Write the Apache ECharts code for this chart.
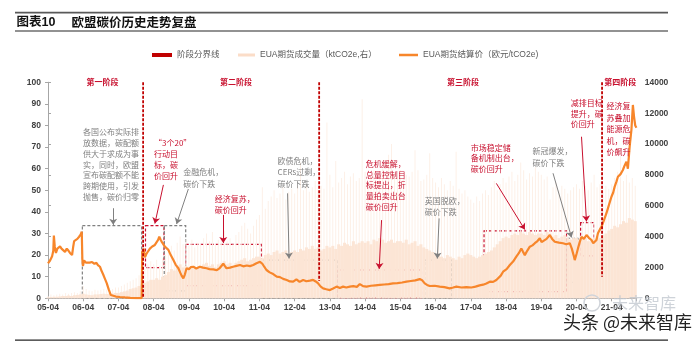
<!DOCTYPE html>
<html><head><meta charset="utf-8">
<script src="https://cdn.jsdelivr.net/npm/echarts@6/dist/echarts.min.js"></script>
<style>html,body{margin:0;padding:0;background:#fff}#c{width:700px;height:342px}</style>
</head><body><div id="c"></div>
<script>
// ---------- DATA ----------
// x = months since 2005-04 (0 = 2005-04)
const xTickLabels = ['05-04','06-04','07-04','08-04','09-04','10-04','11-04','12-04','13-04','14-04','15-04','16-04','17-04','18-04','19-04','20-04','21-04'];
const priceMonths = [0,0.7,1.4,1.8,2.0,2.3,2.7,3.2,3.7,4.1,4.6,5.2,5.8,6.4,7.0,7.5,8.2,8.6,8.9,9.4,10.0,10.6,11.1,11.5,11.7,11.9,12.3,12.9,13.5,14.2,15,15.8,16.5,17.0,17.7,18.3,18.8,19.4,20,20.7,21.4,22,23.1,24.5,26.2,28,30,31.9,
32.1,32.6,33,33.5,34.2,34.7,35.5,36.4,37.0,37.5,37.9,38.4,38.8,39.3,39.8,40.4,41,41.8,42.7,43.5,44.4,45,45.5,46.1,46.6,47.2,48,48.7,49.5,50.5,51.7,52.8,54,55,56.3,57.5,58.5,59.7,60.2,60.8,62,63,64.2,65.4,66.5,67.7,68.8,69.9,71,72.2,73,73.7,74.4,75.5,76.7,77.9,79,80.1,81.3,82.4,83.5,84.6,85.7,86.9,88,89.2,90.3,91.2,92,92.8,93.7,94.8,96,97.1,98.3,99.4,100.5,101.6,102.8,104,105.2,106.2,107.3,108.5,110,111.5,113,114.5,116,117.5,119,120.6,122.1,123.6,125.1,126.6,127.4,128.3,129.1,130,131.7,133.4,135,136.8,138,139.1,140.8,142.5,144.2,145.6,147,148.2,149.3,150.5,151.6,152.7,153.3,154.2,155,156.2,157.3,158.4,159.5,160.4,161.2,161.8,162.4,163.2,164.1,165,165.8,166.7,167.5,168.1,168.6,169.8,170.9,171.7,172.6,174,175.4,176.5,177.7,178.4,179,179.4,180,180.5,181.1,181.7,182.5,183.4,184.2,185.1,185.7,186.2,186.8,187.3,188,188.5,189.3,190.2,191,191.9,192.5,193,193.6,194.1,195,195.8,196.4,197,197.5,198.1,198.7,199.2,199.6,200,200.4];
const priceValues = [16.2,17.5,19.5,22,29,24,21,23,22.5,24,23,22.5,21.5,23,22,21,20,24,26.5,27,27.5,28.5,29.5,30.8,18,15,17.5,16.5,17.2,16.5,16.8,16,16.4,15.4,14.6,12.5,11,9,7,4,1.5,1,0.8,0.6,0.4,0.2,0.1,0.1,
21.6,23,19,20.5,22,23,24,24.7,26,27,28.5,27,26,25,23.9,23.5,22.4,20,17.7,15.5,13.9,12,10.5,9.2,11,13.9,13.5,14.5,14.6,13.8,14.6,14.2,13.9,13.5,13.4,13,14,16,15,13.9,14.2,14.6,15,15.4,14.8,15.2,14.9,15.4,16.2,16.9,16,14.5,13.1,12,11.2,10,9.8,9,8.5,7.8,7.7,8.8,7.6,8.5,7.9,8.2,8.5,7.8,6.9,5.5,4.6,4.2,3.8,4.5,5.4,4.8,5.4,5.0,5.4,5.6,5.3,6.6,5.6,5.4,5.8,6.0,6.2,6.4,6.6,6.9,7.0,7.3,7.7,8.0,8.3,8.9,8.4,6.9,6.2,5.7,5.8,5.4,5.2,4.6,5.0,5.4,5.0,5.2,5.0,5.4,6.0,6.3,6.9,7.7,7.6,8.5,9.2,10.5,12.3,13.5,15.4,17,19.3,21,23.1,21.5,20,22,23.9,24.5,25.5,26.5,27.8,26,25.5,27.5,29.3,27.5,26.2,25.8,25.5,25,25.5,23,20,17.7,20.5,23.1,26,28.5,27.5,29.3,28,27,25.5,24.7,27,30.1,32,33.1,36,39.4,43,47,49,51.7,54,56.3,57.5,59.4,61.5,63.2,60,70.2,78,89.5,84,80,79];
// monthly volume: dense base level and monthly peak (ktCO2e), index = month since 2005-04
const volumeBase = [60,80,100,100,120,150,150,180,150,200,220,250,
300,250,220,200,250,250,280,300,280,320,300,350,
350,400,450,500,600,650,700,800,900,1000,1100,1200,
1200,1300,1200,1400,1500,1700,1900,1800,2000,2200,2000,2100,
2000,2100,1900,2000,2100,2200,2300,2100,2200,2000,2200,2300,
2400,2200,2300,2100,2300,2400,2500,2600,2400,2500,2600,2700,
2700,2600,2800,2900,2800,3000,3100,2900,3000,3100,2900,3000,
3100,3000,3200,3100,3300,3200,3400,3200,3300,3100,3200,3400,
3300,3400,3200,3500,3400,3600,3500,3400,3700,3500,3600,3700,
3600,3700,3500,3800,3700,3900,3800,3600,3700,3800,3600,3700,
3700,3600,3800,3500,3600,3700,3400,3500,3300,3200,3100,3000,
2900,2800,2700,2600,2800,2700,2600,2500,2700,2600,2800,2900,
2800,2700,2600,2700,2800,2900,3000,3100,3300,3500,3700,3900,
4000,3900,4100,4200,4100,4300,4200,4100,4300,4200,4100,4200,
4200,4100,4300,4200,4000,4100,3900,4000,4100,3900,3800,3900,
3900,3800,4000,3900,3700,3800,3900,4000,3900,4100,4200,4400,
4500,4700,4600,4800,5000,4900,5200,5100,5000];
const volumePeak = [150,250,200,250,300,250,350,300,350,400,350,450,
800,600,500,450,550,500,550,600,550,650,600,700,
700,800,900,1000,1100,1200,1300,1500,1700,1900,2200,2400,
2200,2500,2100,2600,2800,3000,3400,3100,3600,4000,3500,3800,
3400,3800,3300,3600,3500,3900,4200,3700,4300,3500,3800,4000,
4400,3700,3900,3500,4100,4300,4700,4900,4500,4200,4700,5100,
5400,7200,5800,6300,6600,7000,6500,6800,7200,6400,6900,7100,
6800,7300,8800,7000,7400,6900,7200,7600,7000,7300,7100,11400,
8000,7200,8900,7500,7800,8200,7400,7900,8100,7600,7800,12900,
8200,7500,7900,8300,7600,8000,8400,7700,9300,10000,8100,7800,
8300,7700,8000,7900,8200,9600,8300,7600,7700,8000,9400,7800,
7500,7200,7800,7400,7000,7600,7300,9500,7100,6800,7000,6600,
6400,6200,6600,6300,6800,7000,6700,7200,7600,7000,7400,7800,
7500,7900,8200,7600,8000,8800,8300,7700,8100,7900,8500,8200,
8000,7700,7900,6400,7200,7500,7000,7300,7100,6800,7000,7200,
7400,7100,7600,7300,7000,7500,8000,7200,7400,7000,7300,7100,
7400,7800,8200,9700,7600,8000,7500,7800,7300];
// phase boundaries: [month, top value, bottom value]
const phaseLines = [[32.4,100,0],[92.35,100,8],[188.7,100,10]];
const phaseNames = ['第一阶段','第二阶段','第三阶段','第四阶段'];
const phaseLabelMonths = [18.6,64,141.3,194.9];
// annotation boxes: [m1, m2, vBottom, vTop, kind]
const boxes = [[11.7,31.9,-0.5,33.6,'g'],[33.2,39.5,14.2,33.6,'r'],[39.6,46.9,3.4,33.6,'g'],[46.9,72.7,5.8,25.0,'r'],
[73.0,98.5,-0.7,17.7,'g'],[98.8,127.2,0.3,13.1,'r'],[128.3,137.4,-0.7,17.7,'g'],[148.5,176.6,3.1,31.2,'r'],[176.8,180.5,7.4,27.8,'g'],[181.4,185.9,19.6,35.0,'r']];
// arrows: [m1,v1,m2,v2,kind]
const arrows = [[22.2,41.7,22.2,34.0,'g'],[39.3,52.5,36.4,34.6,'r'],[47.8,50.6,43.8,34.4,'g'],[59.7,38.6,59.7,25.6,'r'],[81.6,48.6,82.1,18.4,'g'],
[113.6,36.2,112.8,13.6,'r'],[133.2,37,132.6,18.4,'g'],[152.7,53.2,162.4,31.8,'r'],[172,57.9,178.3,28.2,'g'],[181.7,74.8,183.4,35.6,'r']];
// annotation texts: top-left at [month, value]
const noteTexts = ['各国公布实际排\n放数据，碳配额\n供大于求成为事\n实，同时，欧盟\n宣布碳配额不能\n跨期使用，引发\n抛售，碳价归零',
'“3个20”\n行动目\n标，碳\n价回升','金融危机，\n碳价下跌','经济复苏，\n碳价回升','欧债危机，\nCERs过剩，\n碳价下跌',
'危机缓解，\n总量控制目\n标提出，折\n量拍卖出台\n碳价回升','英国脱欧，\n碳价下跌','市场稳定储\n备机制出台，\n碳价回升',
'新冠爆发，\n碳价下跌','减排目标\n提升，碳\n价回升','经济复\n苏叠加\n能源危\n机，碳\n价飙升'];
const notePos = [[11.9,79.4],[36.1,74.5],[46.1,61.1],[56.8,48.8],[78.2,66.2],[108.2,64.7],[128.3,47.6],[144,72.2],[165,70.7],[178,92.7],[190.2,91.5]];
const noteKind = ['g','r','g','r','g','r','g','r','g','r','r'];
const noteLineH = [10.8,11.1,11.6,11.7,11.3,10.7,11.3,10.7,11.7,10.5,11.4];

// ---------- STYLE ----------
const RED = '#C8102E', GRAY = '#808080';
const LAT = '"Liberation Sans", Arial, "Noto Sans CJK SC", sans-serif';
const CJK = '"Noto Sans CJK SC", "Liberation Sans", sans-serif';
const VOL = 'EUA期货成交量（ktCO2e,右）';
const PRICE = 'EUA期货结算价（欧元/tCO2e)';
const PHASE = '阶段分界线';
const kc = k => k === 'r' ? RED : GRAY;

const chart = echarts.init(document.getElementById('c'), null, {renderer: 'canvas'});
const axisLabel = {fontSize: 8.5, fontWeight: 'bold', color: '#404040', fontFamily: LAT};
const legendText = {fontSize: 8.5, color: '#595959', fontFamily: LAT, lineHeight: 12};
const xMax = 200.5;

const series = [
  {name: VOL, type: 'bar', xAxisIndex: 1, yAxisIndex: 1, barWidth: 1, silent: true,
   itemStyle: {color: '#FDF0E7'}, data: volumePeak.map((v, i) => [i, v]), z: 1},
  {name: VOL, type: 'bar', xAxisIndex: 0, yAxisIndex: 1, barWidth: 3, silent: true,
   itemStyle: {color: '#FCE5D5'}, data: volumeBase.map((v, i) => [i, v]), z: 1},
  {name: PRICE, type: 'line', xAxisIndex: 0, yAxisIndex: 0, showSymbol: false, silent: true, z: 4,
   lineStyle: {color: '#F7862B', width: 2.2}, itemStyle: {color: '#F7862B'},
   data: priceMonths.map((m, i) => [m, priceValues[i]]),
   markArea: {silent: true, label: {show: false},
     itemStyle: {color: 'rgba(0,0,0,0)', borderWidth: 1.2, borderType: [3, 2]},
     data: boxes.map(b => [{coord: [b[0], b[3]], itemStyle: {color: 'rgba(0,0,0,0)', borderColor: kc(b[4]), borderWidth: 1.2, borderType: [3, 2]}}, {coord: [b[1], b[2]]}])},
   markLine: {silent: true, symbol: ['none', 'arrow'], symbolSize: 6, label: {show: false}, animation: false,
     data: arrows.map(a => [{coord: [a[0], a[1]], lineStyle: {color: kc(a[4]), width: 1, type: 'solid'}, itemStyle: {color: kc(a[4])}}, {coord: [a[2], a[3]]}])}
  }
];
phaseLines.forEach(p => series.push({name: PHASE, type: 'line', xAxisIndex: 0, yAxisIndex: 0, showSymbol: false, silent: true, z: 5,
  lineStyle: {color: '#C00000', width: 1.8, type: [3, 1.5]}, itemStyle: {color: '#C00000'}, data: [[p[0], p[1]], [p[0], p[2]]]}));

chart.setOption({
  animation: false,
  grid: {left: 48, right: 63.3, top: 82.3, bottom: 43.7, outerBoundsMode: 'none'},
  legend: [
    {data: [{name: PHASE, icon: 'rect', itemStyle: {color: '#C00000'}}], left: 152, top: 49, itemWidth: 20, itemHeight: 4, padding: 0, selectedMode: false, textStyle: legendText},
    {data: [{name: VOL, icon: 'rect', itemStyle: {color: '#FBDDC8'}}], left: 238, top: 49, itemWidth: 17, itemHeight: 3, padding: 0, selectedMode: false, textStyle: legendText},
    {data: [{name: PRICE, icon: 'rect', itemStyle: {color: '#F7862B'}}], left: 399, top: 49, itemWidth: 19, itemHeight: 2.5, padding: 0, selectedMode: false, textStyle: legendText}
  ],
  xAxis: [
    {type: 'value', min: 0, max: xMax, interval: 12, splitLine: {show: false},
     axisLine: {lineStyle: {color: '#A6A6A6'}}, axisTick: {show: true, length: 3, lineStyle: {color: '#A6A6A6'}},
     axisLabel: Object.assign({margin: 5, showMaxLabel: true, formatter: v => (v % 12 === 0 && xTickLabels[v / 12]) ? xTickLabels[v / 12] : ''}, axisLabel)},
    {type: 'value', min: 0, max: xMax, show: false}
  ],
  yAxis: [
    {type: 'value', min: 0, max: 100, interval: 10, splitLine: {show: false},
     axisLine: {show: true, lineStyle: {color: '#A6A6A6'}}, axisTick: {show: true, length: 3, lineStyle: {color: '#A6A6A6'}},
     axisLabel: Object.assign({margin: 7, formatter: v => String(v)}, axisLabel)},
    {type: 'value', min: 0, max: 14000, interval: 2000, position: 'right', splitLine: {show: false},
     axisLine: {show: true, lineStyle: {color: '#A6A6A6'}}, axisTick: {show: true, length: 3, lineStyle: {color: '#A6A6A6'}},
     axisLabel: Object.assign({margin: 8, formatter: v => String(v)}, axisLabel)}
  ],
  series: series
});

// ---------- graphics (positions from the library's scales) ----------
const toPx = (m, v) => chart.convertToPixel({xAxisIndex: 0, yAxisIndex: 0}, [m, v]);
const g = [];
g.push({type: 'rect', shape: {x: 15, y: 11.8, width: 653, height: 1.8}, style: {fill: '#595959'}, silent: true});
g.push({type: 'rect', shape: {x: 15, y: 30.6, width: 653, height: 1}, style: {fill: '#262626'}, silent: true});
g.push({type: 'rect', shape: {x: 15, y: 339.4, width: 653, height: 1.4}, style: {fill: '#262626'}, silent: true});
g.push({type: 'text', x: 16.5, y: 22.6, style: {text: '图表10', fill: '#111', fontSize: 12.5, fontWeight: 'bold', fontFamily: LAT, align: 'left', verticalAlign: 'middle'}});
g.push({type: 'text', x: 71.5, y: 22.6, style: {text: '欧盟碳价历史走势复盘', fill: '#111', fontSize: 12.5, fontWeight: 'bold', fontFamily: CJK, align: 'left', verticalAlign: 'middle'}});
phaseNames.forEach((t, i) => {
  const p = toPx(phaseLabelMonths[i], 100);
  g.push({type: 'text', x: p[0], y: p[1] - 0.5, z: 10, style: {text: t, fill: RED, fontSize: 8, fontWeight: 'bold', fontFamily: CJK, align: 'center', verticalAlign: 'middle', backgroundColor: i === 3 ? '#fff' : null}});
});
noteTexts.forEach((t, i) => {
  const p = toPx(notePos[i][0], notePos[i][1]);
  g.push({type: 'text', x: p[0], y: p[1], z: 10, style: {text: t, fill: kc(noteKind[i]), fontSize: 8, fontFamily: CJK, lineHeight: noteLineH[i], align: 'left', verticalAlign: 'top'}});
});
// watermarks
g.push({type: 'circle', shape: {cx: 592, cy: 303, r: 8}, style: {fill: 'none', stroke: '#d0d4da', lineWidth: 1.5}, z: 20, silent: true});
g.push({type: 'text', x: 612, y: 303, z: 20, style: {text: '未来智库', fill: 'rgba(190,196,204,0.75)', fontSize: 16, fontFamily: CJK, align: 'left', verticalAlign: 'middle'}});
g.push({type: 'text', x: 563, y: 322, z: 21, style: {text: '头条 @未来智库', fill: '#222', stroke: '#fff', lineWidth: 1, fontSize: 18, fontFamily: CJK, align: 'left', verticalAlign: 'middle'}});
chart.setOption({graphic: g});
</script></body></html>
